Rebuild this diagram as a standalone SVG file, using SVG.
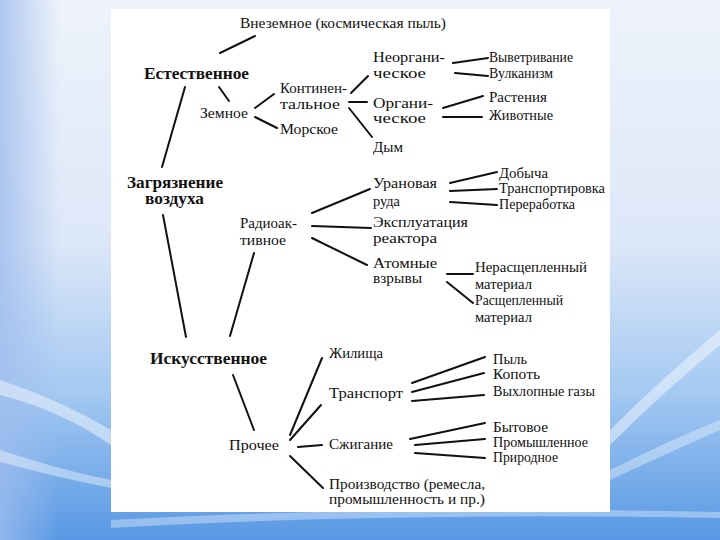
<svg xmlns="http://www.w3.org/2000/svg" width="720" height="540" viewBox="0 0 720 540">
<defs>
<linearGradient id="bg" x1="0" y1="0" x2="0" y2="1">
<stop offset="0" stop-color="#eef3fb"/>
<stop offset="0.45" stop-color="#dce7f8"/>
<stop offset="0.72" stop-color="#a6caf2"/>
<stop offset="1" stop-color="#5898e4"/>
</linearGradient>
<linearGradient id="side" x1="0" y1="0" x2="1" y2="0">
<stop offset="0" stop-color="#9fbdee" stop-opacity="0.8"/>
<stop offset="1" stop-color="#9fbdee" stop-opacity="0"/>
</linearGradient>
</defs>
<rect width="720" height="540" fill="url(#bg)"/>
<rect x="0" y="0" width="60" height="540" fill="url(#side)"/>
<path d="M0 380 Q60 400 111 430 L111 445 Q60 410 0 395 Z" fill="#ffffff" opacity="0.45"/>
<path d="M0 450 Q60 470 111 480 L111 488 Q60 478 0 462 Z" fill="#ffffff" opacity="0.4"/>
<path d="M610 430 Q660 380 720 330 L720 345 Q660 395 610 445 Z" fill="#ffffff" opacity="0.45"/>
<path d="M610 470 Q670 440 720 420 L720 430 Q670 452 610 480 Z" fill="#ffffff" opacity="0.35"/>
<path d="M111 520 Q380 505 720 512 L720 518 Q380 512 111 528 Z" fill="#ffffff" opacity="0.35"/>
<rect x="111" y="9" width="499" height="503" fill="#ffffff"/>

<g id="connectors" stroke="#111" stroke-width="2" stroke-linecap="round">
<line x1="220" y1="53" x2="255" y2="36"/>
<line x1="185" y1="87" x2="162" y2="167"/>
<line x1="219" y1="87" x2="229" y2="101"/>
<line x1="255" y1="108" x2="274" y2="94"/>
<line x1="255" y1="117" x2="277" y2="128"/>
<line x1="351" y1="93" x2="368" y2="76"/>
<line x1="349" y1="102" x2="367" y2="102"/>
<line x1="349" y1="108" x2="372" y2="137"/>
<line x1="453" y1="63" x2="488" y2="58"/>
<line x1="455" y1="73" x2="488" y2="76"/>
<line x1="443" y1="108" x2="483" y2="96"/>
<line x1="443" y1="117" x2="482" y2="117"/>
<line x1="163" y1="215" x2="186" y2="337"/>
<line x1="254" y1="253" x2="230" y2="336"/>
<line x1="312" y1="213" x2="370" y2="189"/>
<line x1="312" y1="226" x2="371" y2="228"/>
<line x1="312" y1="238" x2="367" y2="265"/>
<line x1="450" y1="183" x2="497" y2="172"/>
<line x1="450" y1="191" x2="497" y2="189"/>
<line x1="450" y1="202" x2="497" y2="205"/>
<line x1="447" y1="274" x2="473" y2="274"/>
<line x1="447" y1="282" x2="473" y2="303"/>
<line x1="233" y1="375" x2="254" y2="430"/>
<line x1="290" y1="435" x2="322" y2="358"/>
<line x1="290" y1="440" x2="321" y2="405"/>
<line x1="298" y1="447" x2="322" y2="445"/>
<line x1="290" y1="456" x2="323" y2="488"/>
<line x1="412" y1="383" x2="485" y2="357"/>
<line x1="412" y1="392" x2="484" y2="373"/>
<line x1="412" y1="401" x2="484" y2="395"/>
<line x1="410" y1="439" x2="485" y2="423"/>
<line x1="415" y1="445" x2="485" y2="439"/>
<line x1="415" y1="453" x2="485" y2="458"/>
</g>

<g font-family="Liberation Serif" font-size="15" fill="#111">
<g id="vnezemnoe"><text x="240" y="28" textLength="206" lengthAdjust="spacingAndGlyphs">Внеземное (космическая пыль)</text></g>
<g id="estestvennoe" font-size="16" font-weight="bold"><text x="144" y="79" textLength="105" lengthAdjust="spacingAndGlyphs">Естественное</text></g>
<g id="zemnoe"><text x="200" y="118" textLength="48" lengthAdjust="spacingAndGlyphs">Земное</text></g>
<g id="kontinentalnoe"><text x="280" y="93" textLength="67" lengthAdjust="spacingAndGlyphs">Континен-</text><text x="280" y="109" textLength="60" lengthAdjust="spacingAndGlyphs">тальное</text></g>
<g id="morskoe"><text x="280" y="134" textLength="58" lengthAdjust="spacingAndGlyphs">Морское</text></g>
<g id="neorganicheskoe"><text x="373" y="62" textLength="72" lengthAdjust="spacingAndGlyphs">Неоргани-</text><text x="373" y="78" textLength="53" lengthAdjust="spacingAndGlyphs">ческое</text></g>
<g id="organicheskoe"><text x="373" y="108" textLength="60" lengthAdjust="spacingAndGlyphs">Органи-</text><text x="373" y="123" textLength="53" lengthAdjust="spacingAndGlyphs">ческое</text></g>
<g id="dym"><text x="373" y="152" textLength="30" lengthAdjust="spacingAndGlyphs">Дым</text></g>
<g id="vyvetrivanie"><text x="489" y="62" textLength="84" lengthAdjust="spacingAndGlyphs">Выветривание</text></g>
<g id="vulkanizm"><text x="489" y="78" textLength="64" lengthAdjust="spacingAndGlyphs">Вулканизм</text></g>
<g id="rastenia"><text x="489" y="102" textLength="58" lengthAdjust="spacingAndGlyphs">Растения</text></g>
<g id="zhivotnye"><text x="489" y="120" textLength="64" lengthAdjust="spacingAndGlyphs">Животные</text></g>
<g id="zagryaznenie" font-size="16" font-weight="bold"><text x="127" y="188" textLength="96" lengthAdjust="spacingAndGlyphs">Загрязнение</text><text x="145" y="204" textLength="59" lengthAdjust="spacingAndGlyphs">воздуха</text></g>
<g id="radioaktivnoe"><text x="240" y="228" textLength="57" lengthAdjust="spacingAndGlyphs">Радиоак-</text><text x="240" y="245" textLength="46" lengthAdjust="spacingAndGlyphs">тивное</text></g>
<g id="uranovaya"><text x="373" y="188" textLength="64" lengthAdjust="spacingAndGlyphs">Урановая</text><text x="373" y="206" textLength="27" lengthAdjust="spacingAndGlyphs">руда</text></g>
<g id="ekspluatacia"><text x="373" y="227" textLength="95" lengthAdjust="spacingAndGlyphs">Эксплуатация</text><text x="373" y="243" textLength="64" lengthAdjust="spacingAndGlyphs">реактора</text></g>
<g id="atomnye"><text x="373" y="268" textLength="64" lengthAdjust="spacingAndGlyphs">Атомные</text><text x="373" y="283" textLength="49" lengthAdjust="spacingAndGlyphs">взрывы</text></g>
<g id="dobycha"><text x="499" y="178" textLength="49" lengthAdjust="spacingAndGlyphs">Добыча</text></g>
<g id="transportirovka"><text x="499" y="193" textLength="106" lengthAdjust="spacingAndGlyphs">Транспортировка</text></g>
<g id="pererabotka"><text x="499" y="209" textLength="76" lengthAdjust="spacingAndGlyphs">Переработка</text></g>
<g id="nerasscheplenny"><text x="475" y="272" textLength="112" lengthAdjust="spacingAndGlyphs">Нерасщепленный</text><text x="475" y="289" textLength="57" lengthAdjust="spacingAndGlyphs">материал</text></g>
<g id="rasscheplenny"><text x="475" y="305" textLength="88" lengthAdjust="spacingAndGlyphs">Расщепленный</text><text x="475" y="322" textLength="57" lengthAdjust="spacingAndGlyphs">материал</text></g>
<g id="iskusstvennoe" font-size="16" font-weight="bold"><text x="150" y="364" textLength="117" lengthAdjust="spacingAndGlyphs">Искусственное</text></g>
<g id="prochee"><text x="229" y="450" textLength="50" lengthAdjust="spacingAndGlyphs">Прочее</text></g>
<g id="zhilischa"><text x="329" y="358" textLength="54" lengthAdjust="spacingAndGlyphs">Жилища</text></g>
<g id="transport"><text x="329" y="398" textLength="74" lengthAdjust="spacingAndGlyphs">Транспорт</text></g>
<g id="szhiganie"><text x="329" y="449" textLength="64" lengthAdjust="spacingAndGlyphs">Сжигание</text></g>
<g id="proizvodstvo"><text x="329" y="489" textLength="156" lengthAdjust="spacingAndGlyphs">Производство (ремесла,</text><text x="329" y="504" textLength="156" lengthAdjust="spacingAndGlyphs">промышленность и пр.)</text></g>
<g id="pyl"><text x="493" y="364" textLength="34" lengthAdjust="spacingAndGlyphs">Пыль</text></g>
<g id="kopot"><text x="493" y="379" textLength="47" lengthAdjust="spacingAndGlyphs">Копоть</text></g>
<g id="vyhlopnye"><text x="493" y="396" textLength="102" lengthAdjust="spacingAndGlyphs">Выхлопные газы</text></g>
<g id="bytovoe"><text x="493" y="432" textLength="55" lengthAdjust="spacingAndGlyphs">Бытовое</text></g>
<g id="promyshlennoe"><text x="493" y="447" textLength="95" lengthAdjust="spacingAndGlyphs">Промышленное</text></g>
<g id="prirodnoe"><text x="493" y="462" textLength="65" lengthAdjust="spacingAndGlyphs">Природное</text></g>
</g>
</svg>
